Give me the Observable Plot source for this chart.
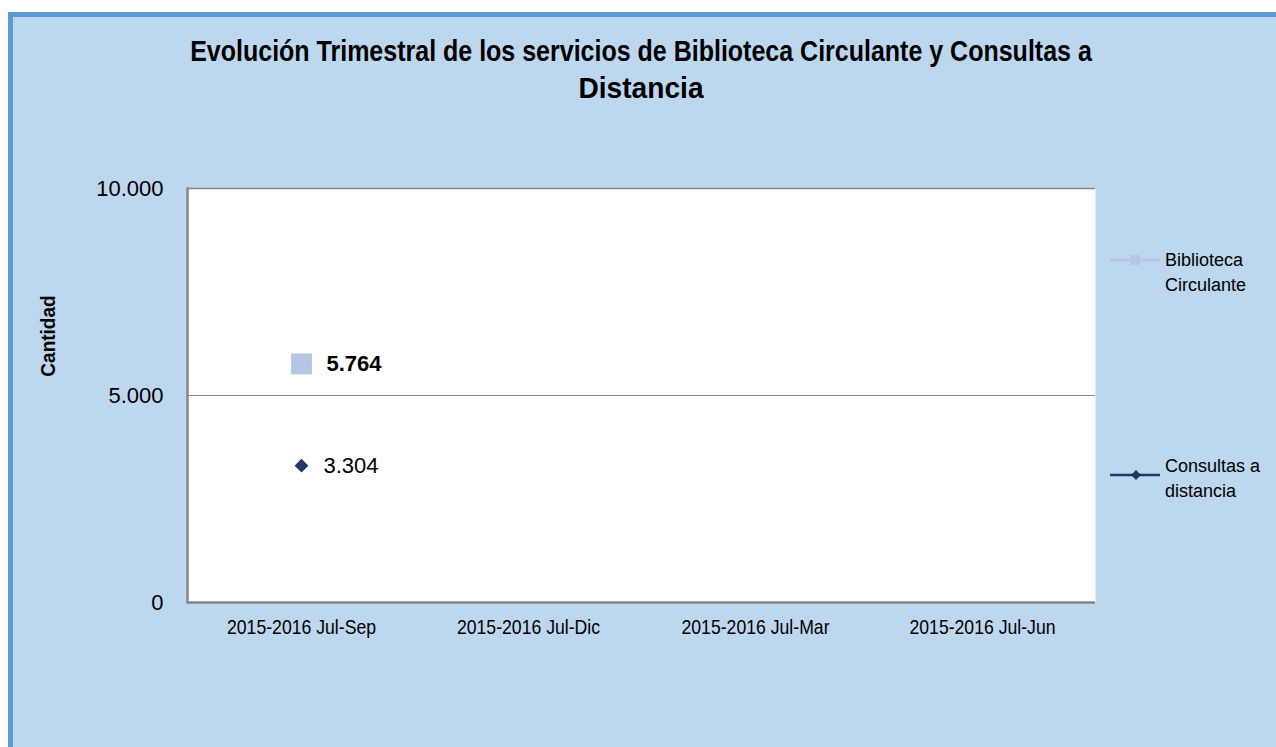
<!DOCTYPE html>
<html>
<head>
<meta charset="utf-8">
<script src="https://cdn.jsdelivr.net/npm/d3@7"></script>
<script src="https://cdn.jsdelivr.net/npm/@observablehq/plot@0.6"></script>
<style>
  html, body { margin: 0; padding: 0; background: #ffffff; }
  body { width: 1276px; height: 747px; overflow: hidden; position: relative; font-family: "Liberation Sans", Arial, sans-serif; }
  #bg { position: absolute; left: 8px; top: 12px; width: 1300px; height: 760px; background: #BDD7EE;
        border-left: 5px solid #5B9BD5; border-top: 5px solid #5B9BD5; box-sizing: border-box; }
  #title { position: absolute; left: 3px; top: 33px; width: 1276px; text-align: center;
           font-family: "Liberation Sans", Arial, sans-serif;
           font-weight: bold; font-size: 29px; line-height: 37px; color: #000; }
  #title span { display: block; transform: scaleX(0.862); transform-origin: 50% 50%; white-space: nowrap; }
  #title span.l2 { transform: scaleX(0.97); }
  #ylabel { position: absolute; left: 48px; top: 336px; transform: translate(-50%, -50%) rotate(-90deg) scaleX(0.95);
            font-family: "Liberation Sans", Arial, sans-serif;
            font-weight: bold; font-size: 20px; white-space: nowrap; color: #000; }
  #plot { position: absolute; left: 0; top: 0; }
  #plot svg { overflow: visible; }
  #plot [aria-label="x-axis tick label"] text { font-family: "Liberation Sans", Arial, sans-serif; font-size: 21px; }
  #plot [aria-label="y-axis tick label"] text { font-family: "Liberation Sans", Arial, sans-serif; font-size: 22px; }
  .leg { position: absolute; font-size: 18px; line-height: 25px; color: #000; font-family: "Liberation Sans", Arial, sans-serif; }
  .sw { position: absolute; }
</style>
</head>
<body>
<div id="bg"></div>
<div id="title"></div>
<div id="ylabel"></div>
<div id="plot"></div>
<div id="legend"></div>
<script>
// ---- data ----
const titleLines = ["Evolución Trimestral de los servicios de Biblioteca Circulante y Consultas a", "Distancia"];
const yAxisLabel = "Cantidad";
const categories = ["2015-2016 Jul-Sep", "2015-2016 Jul-Dic", "2015-2016 Jul-Mar", "2015-2016 Jul-Jun"];
const seriesNames = ["Biblioteca Circulante", "Consultas a distancia"];
const bibliotecaCirculante = [5764, null, null, null];
const consultasDistancia = [3304, null, null, null];
const yTicks = [0, 5000, 10000];

// ---- styles ----
const colBib = "#B4C7E7";
const colCon = "#1F3864";
const gridCol = "#868686";
const fmt = d => d3.format(",")(d).replace(/,/g, ".");

document.getElementById("title").innerHTML = titleLines.map((l, i) => '<span class="l' + (i + 1) + '">' + l + "</span>").join("");
document.getElementById("ylabel").textContent = yAxisLabel;

const rowsBib = categories.map((c, i) => ({cat: c, v: bibliotecaCirculante[i]})).filter(d => d.v != null);
const rowsCon = categories.map((c, i) => ({cat: c, v: consultasDistancia[i]})).filter(d => d.v != null);

const chart = Plot.plot({
  width: 1276,
  height: 660,
  marginLeft: 187,
  marginRight: 181,
  marginTop: 188,
  marginBottom: 58,
  style: {background: "transparent", color: "#000", overflow: "visible"},
  x: {type: "point", domain: categories, padding: 0.5, label: null},
  y: {domain: [0, 10000], label: null},
  marks: [
    Plot.frame({fill: "white", stroke: "none"}),
    Plot.ruleY([yTicks[1]], {stroke: gridCol, strokeWidth: 1}),
    Plot.ruleY([yTicks[2]], {stroke: gridCol, strokeWidth: 1.5}),
    Plot.ruleY([yTicks[0]], {stroke: gridCol, strokeWidth: 2.5}),
    Plot.frame({anchor: "left", stroke: gridCol, strokeWidth: 2.5}),
    Plot.axisX({tickSize: 0, tickPadding: 17, label: null}),
    Plot.axisY({ticks: yTicks, tickSize: 0, tickPadding: 24, tickFormat: fmt, label: null}),
    Plot.line(rowsBib, {x: "cat", y: "v", stroke: colBib, strokeWidth: 3}),
    Plot.line(rowsCon, {x: "cat", y: "v", stroke: colCon, strokeWidth: 2.5}),
    Plot.dot(rowsBib, {x: "cat", y: "v", symbol: "square", r: 11.8, fill: colBib, stroke: "none"}),
    Plot.dot(rowsCon, {x: "cat", y: "v", symbol: "diamond2", r: 6.2, fill: colCon, stroke: "none"}),
    Plot.text(rowsBib, {x: "cat", y: "v", text: d => fmt(d.v), dx: 25, textAnchor: "start",
      fontSize: 22, fontWeight: "bold", fontFamily: "Liberation Sans, Arial, sans-serif", fill: "#000"}),
    Plot.text(rowsCon, {x: "cat", y: "v", text: d => fmt(d.v), dx: 22, textAnchor: "start",
      fontSize: 22, fontFamily: "Liberation Sans, Arial, sans-serif", fill: "#000"})
  ]
});
document.getElementById("plot").appendChild(chart);

// condense x tick labels (narrow face in the original)
chart.querySelectorAll('[aria-label="x-axis tick label"] text').forEach(t => {
  const w = t.getComputedTextLength();
  t.setAttribute("textLength", (w * 0.84).toFixed(1));
  t.setAttribute("lengthAdjust", "spacingAndGlyphs");
});

// ---- legend (HTML) ----
const leg = document.getElementById("legend");
const legItems = [
  {name: seriesNames[0], lines: ["Biblioteca", "Circulante"], color: colBib, sym: "square", lineY: 260, textTop: 247.5, sw: 3},
  {name: seriesNames[1], lines: ["Consultas a", "distancia"], color: colCon, sym: "diamond", lineY: 475, textTop: 454, sw: 2.5}
];
legItems.forEach(it => {
  const svg = d3.create("svg").attr("class", "sw").attr("width", 52).attr("height", 20)
    .style("left", "1109px").style("top", (it.lineY - 10) + "px");
  svg.append("line").attr("x1", 1).attr("x2", 51).attr("y1", 10).attr("y2", 10)
    .attr("stroke", it.color).attr("stroke-width", it.sw);
  if (it.sym === "square") {
    svg.append("rect").attr("x", 21).attr("y", 5).attr("width", 10).attr("height", 10).attr("fill", it.color);
  } else {
    svg.append("path").attr("d", "M27,5L32,10L27,15L22,10Z").attr("fill", it.color);
  }
  leg.appendChild(svg.node());
  const t = document.createElement("div");
  t.className = "leg";
  t.style.left = "1165px";
  t.style.top = it.textTop + "px";
  t.innerHTML = it.lines.join("<br>");
  leg.appendChild(t);
});
</script>
</body>
</html>
